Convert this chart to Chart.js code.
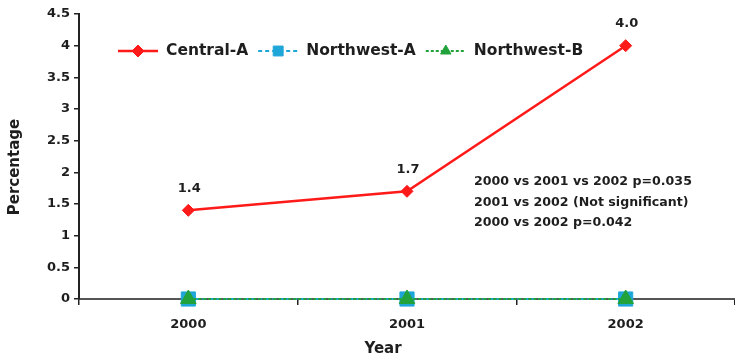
<!DOCTYPE html>
<html>
<head>
<meta charset="utf-8">
<script src="https://cdn.jsdelivr.net/npm/chart.js@4/dist/chart.umd.min.js"></script>
<style>
  html, body { margin: 0; padding: 0; background: #fff; }
  #wrap { width: 735px; height: 359px; }
</style>
</head>
<body>
<div id="wrap"><canvas id="c" width="735" height="359"></canvas></div>
<script>
// Categories and series values
const years = ['2000', '2001', '2002'];
const centralA = [1.4, 1.7, 4.0];
const northwestA = [0, 0, 0];
const northwestB = [0, 0, 0];

// Value axis range
const yMin = 0;
const yMax = 4.5;
const yStep = 0.5;

// Statistical notes shown on the right
const notes = [
  '2000 vs 2001 vs 2002 p=0.035',
  '2001 vs 2002 (Not significant)',
  '2000 vs 2002 p=0.042'
];

const yTitle = 'Percentage';
const xTitle = 'Year';

const FONT = '"DejaVu Sans", Verdana, sans-serif';
const INK = '#1e1e1e';

// Draws value labels, notes, the in-plot legend and the axis titles
const overlay = {
  id: 'overlay',
  afterDatasetsDraw(chart) {
    const ctx = chart.ctx;
    ctx.save();
    ctx.fillStyle = INK;

    // value labels above Central-A points
    ctx.font = 'bold 13px ' + FONT;
    ctx.textAlign = 'center';
    ctx.textBaseline = 'middle';
    const meta = chart.getDatasetMeta(0);
    meta.data.forEach((pt, i) => {
      ctx.fillText(centralA[i].toFixed(1), pt.x + 1, pt.y - 22);
    });

    // notes
    ctx.font = 'bold 12.6px ' + FONT;
    ctx.textAlign = 'left';
    notes.forEach((t, i) => ctx.fillText(t, 474, 182 + i * 20.5));

    // legend inside the plot
    ctx.font = 'bold 15.5px ' + FONT;
    let x = 118;
    const y = 51;
    chart.data.datasets.forEach(ds => {
      ctx.save();
      ctx.strokeStyle = ds.borderColor;
      ctx.lineWidth = ds.borderWidth;
      ctx.setLineDash(ds.borderDash || []);
      ctx.beginPath();
      ctx.moveTo(x, y);
      ctx.lineTo(x + 40, y);
      ctx.stroke();
      ctx.restore();
      ctx.save();
      ctx.fillStyle = ds.pointBackgroundColor;
      ctx.strokeStyle = ds.borderColor;
      Chart.helpers.drawPoint(ctx, {
        pointStyle: ds.pointStyle,
        radius: ds.pointStyle === 'rect' ? 7 : 6,
        rotation: 0,
        borderWidth: 1
      }, x + 20, y);
      ctx.restore();
      ctx.fillText(ds.label, x + 48, y);
      x += 48 + ctx.measureText(ds.label).width + 10;
    });

    // axis titles
    ctx.font = 'bold 15px ' + FONT;
    ctx.textAlign = 'center';
    ctx.fillText(xTitle, 383, 349);
    ctx.translate(15, 167);
    ctx.rotate(-Math.PI / 2);
    ctx.fillText(yTitle, 0, 0);
    ctx.restore();
  }
};

Chart.defaults.font.family = FONT;
Chart.defaults.color = INK;

new Chart(document.getElementById('c'), {
  type: 'line',
  data: {
    labels: years,
    datasets: [
      {
        label: 'Central-A',
        data: centralA,
        order: 0,
        borderColor: '#ff1a1a',
        backgroundColor: '#ff1a1a',
        pointBackgroundColor: '#ff1a1a',
        borderWidth: 2.5,
        pointStyle: 'rectRot',
        pointRadius: 6,
        pointBorderWidth: 1,
        tension: 0,
        clip: false
      },
      {
        label: 'Northwest-A',
        data: northwestA,
        order: 2,
        borderColor: '#1fa6d8',
        backgroundColor: '#1fa6d8',
        pointBackgroundColor: '#1fa6d8',
        borderWidth: 2,
        borderDash: [4, 3],
        pointStyle: 'rect',
        pointRadius: 10,
        pointBorderWidth: 1,
        tension: 0,
        clip: false
      },
      {
        label: 'Northwest-B',
        data: northwestB,
        order: 1,
        borderColor: '#22a23a',
        backgroundColor: '#22a23a',
        pointBackgroundColor: '#22a23a',
        borderWidth: 2,
        borderDash: [3, 2],
        pointStyle: 'triangle',
        pointRadius: 9,
        pointBorderWidth: 1,
        tension: 0,
        clip: false
      }
    ]
  },
  options: {
    responsive: false,
    animation: false,
    devicePixelRatio: 1,
    layout: { autoPadding: false, padding: { top: 14, left: 0, right: -5, bottom: 0 } },
    plugins: {
      legend: { display: false },
      tooltip: { enabled: false }
    },
    scales: {
      x: {
        type: 'category',
        offset: true,
        afterFit(s) {
          s.height = 60;
          s.paddingLeft = 0;
          s.paddingRight = 0;
        },
        grid: {
          offset: true,
          drawOnChartArea: false,
          drawTicks: true,
          tickLength: 6,
          color: '#222',
          lineWidth: 1.5
        },
        border: { color: '#555', width: 2, dash: [5, 2] },
        ticks: {
          font: { size: 13, weight: 'bold' },
          color: INK,
          padding: 12,
          maxRotation: 0
        }
      },
      y: {
        min: yMin,
        max: yMax,
        afterFit(s) { s.width = 79; },
        grid: {
          drawOnChartArea: false,
          drawTicks: true,
          tickLength: 5,
          color: '#222',
          lineWidth: 1.5
        },
        border: { color: '#222', width: 2 },
        ticks: {
          stepSize: yStep,
          font: { size: 13, weight: 'bold' },
          color: INK,
          padding: 4,
          callback: v => String(v)
        }
      }
    }
  },
  plugins: [overlay]
});
</script>
</body>
</html>
